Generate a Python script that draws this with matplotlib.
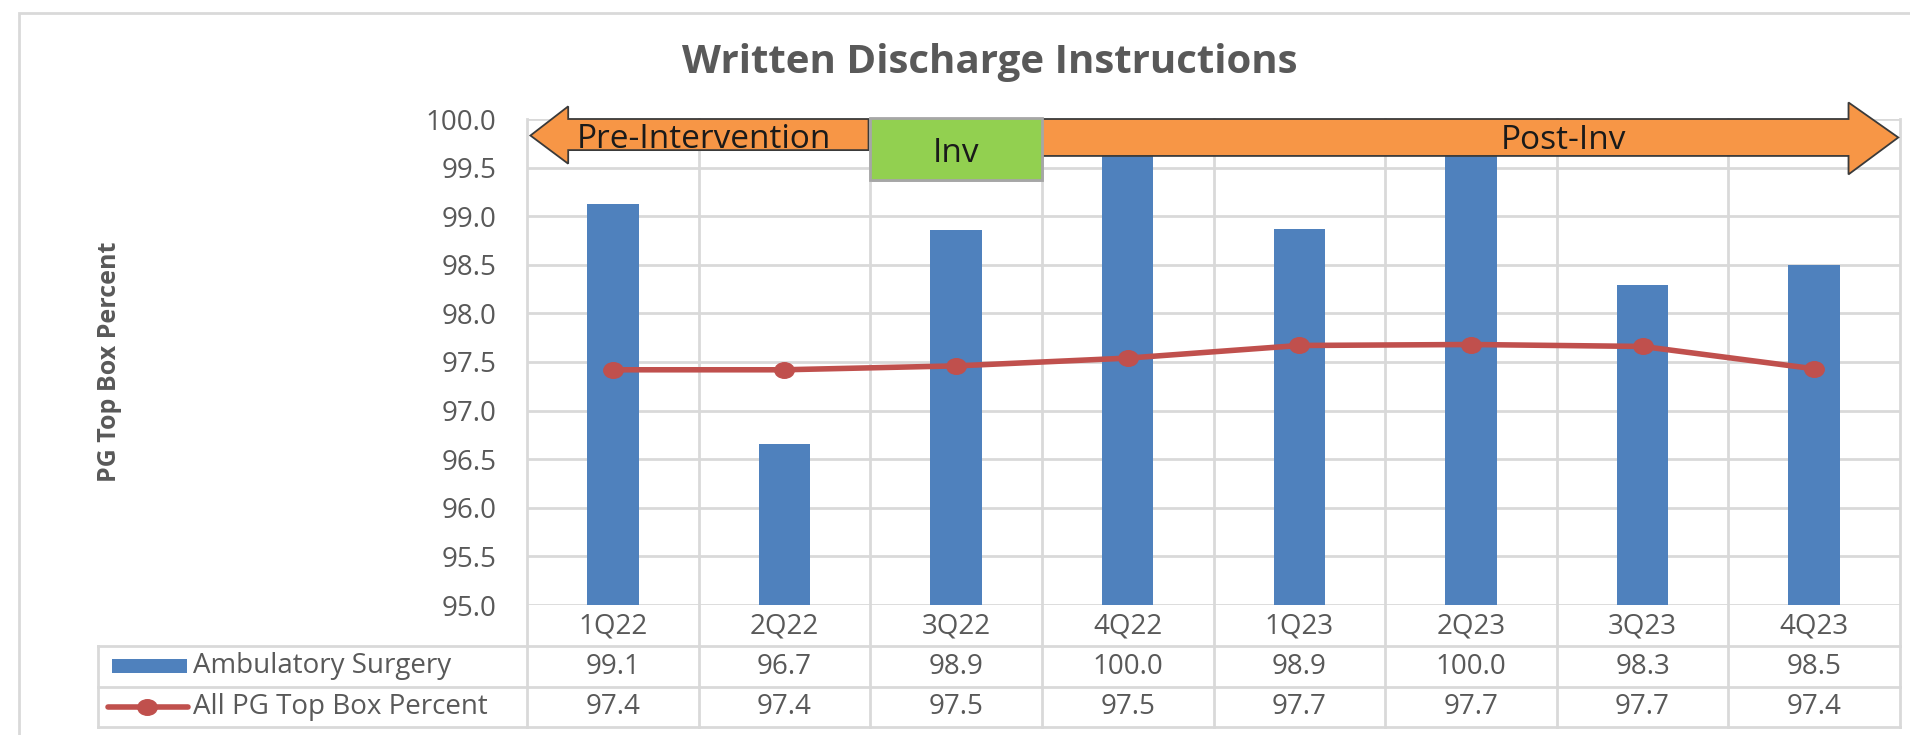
import matplotlib
matplotlib.use("Agg")
import matplotlib.pyplot as plt
import matplotlib.patches as mpatches
import matplotlib.transforms as mtransforms
from matplotlib.lines import Line2D
from matplotlib.path import Path
import numpy as np

# ---------------- data ----------------
categories = ["1Q22", "2Q22", "3Q22", "4Q22", "1Q23", "2Q23", "3Q23", "4Q23"]
ambulatory = [99.13, 96.66, 98.86, 100.0, 98.87, 100.0, 98.29, 98.5]
all_pg = [97.42, 97.42, 97.46, 97.54, 97.67, 97.68, 97.66, 97.43]
series_names = ["Ambulatory Surgery", "All PG Top Box Percent"]
title = "Written Discharge Instructions"
ylabel = "PG Top Box Percent"
y_ticks = [95.0, 95.5, 96.0, 96.5, 97.0, 97.5, 98.0, 98.5, 99.0, 99.5, 100.0]

# ---------------- style ----------------
FONT = "Open Sans"
plt.rcParams["font.family"] = [FONT, "DejaVu Sans"]
BAR_C = "#4F81BD"
LINE_C = "#C0504D"
GRID_C = "#D9D9D9"
TXT_C = "#595959"
ORANGE = "#F79646"
GREEN = "#92D050"
FS = 20

W, H = 1910, 735
fig = plt.figure(figsize=(W / 100, H / 100), dpi=100)


def fx(px):
    return px / W


def fy(py):
    return 1 - py / H


L, R, T, B = 527, 1900, 119, 605
ax = fig.add_axes([fx(L), fy(B), fx(R) - fx(L), fy(T) - fy(B)])
x = np.arange(len(categories))

ax.set_xlim(-0.5, len(categories) - 0.5)
ax.set_ylim(y_ticks[0], y_ticks[-1])
ax.set_yticks(y_ticks)
ax.set_yticklabels([f"{v:.1f}" for v in y_ticks])
ax.set_xticks([])
ax.tick_params(axis="y", length=0, labelsize=FS, labelcolor=TXT_C, pad=22)
for s in ax.spines.values():
    s.set_visible(False)
ax.set_axisbelow(True)
ax.yaxis.grid(True, color=GRID_C, lw=2)

# bars
ax.bar(x, ambulatory, width=0.3, color=BAR_C, zorder=2)

# line with slightly wide round markers
circ = Path.unit_circle()
ell = Path(circ.vertices * np.array([1.25, 1.0]), circ.codes)
ax.plot(x, all_pg, color=LINE_C, lw=4, marker=ell, markersize=14,
        markerfacecolor=LINE_C, markeredgecolor=LINE_C, zorder=3,
        solid_capstyle="round")

# blended transform: x in data, y in figure fraction
bt = mtransforms.blended_transform_factory(ax.transData, fig.transFigure)

# vertical grid / table lines
for b in np.arange(-0.5, len(categories), 1.0):
    ax.add_line(Line2D([b, b], [fy(T), fy(727)], transform=bt, color=GRID_C,
                       lw=2, clip_on=False, zorder=0.6))

# table horizontal lines
for py in [646, 687, 727]:
    fig.add_artist(Line2D([fx(98), fx(R)], [fy(py), fy(py)], color=GRID_C, lw=2))
fig.add_artist(Line2D([fx(98), fx(98)], [fy(646), fy(727)], color=GRID_C, lw=2))

# category row
for i, c in enumerate(categories):
    ax.text(i, fy(627), c, transform=bt, ha="center", va="center",
            fontsize=FS, color=TXT_C, clip_on=False)
# values rows
for i, v in enumerate(ambulatory):
    ax.text(i, fy(666.5), f"{v:.1f}", transform=bt, ha="center", va="center",
            fontsize=FS, color=TXT_C, clip_on=False)
for i, v in enumerate(all_pg):
    ax.text(i, fy(707), f"{v:.1f}", transform=bt, ha="center", va="center",
            fontsize=FS, color=TXT_C, clip_on=False)

# legend keys in table
fig.add_artist(mpatches.Rectangle((fx(112), fy(673)), fx(187) - fx(112),
                                  fy(659) - fy(673), facecolor=BAR_C, edgecolor="none"))
fig.add_artist(Line2D([fx(108), fx(188)], [fy(707), fy(707)], color=LINE_C, lw=4,
                      marker=None, solid_capstyle="round"))
fig.add_artist(Line2D([fx(147)], [fy(707)], color=LINE_C, marker=ell,
                      markersize=14, linestyle="none"))
fig.text(fx(193), fy(666.5), series_names[0], ha="left", va="center",
         fontsize=FS, color=TXT_C)
fig.text(fx(193), fy(707), series_names[1], ha="left", va="center",
         fontsize=FS, color=TXT_C)

# title and axis label
fig.text(fx(990), fy(63), title, ha="center", va="center", fontsize=29,
         fontweight="bold", color=TXT_C)
fig.text(fx(110), fy(362), ylabel, rotation=90, ha="center", va="center",
         fontsize=18, fontweight="bold", color=TXT_C)

# ---------------- phase annotations ----------------
EDGE = "#3A3A3A"
pre = [(-0.48, 99.83), (-0.26, 100.13), (-0.26, 100.0), (1.49, 100.0),
       (1.49, 99.68), (-0.26, 99.68), (-0.26, 99.54)]
ax.add_patch(mpatches.Polygon(pre, closed=True, facecolor=ORANGE, edgecolor=EDGE,
                              lw=1.3, clip_on=False, zorder=5))
post = [(2.5, 100.0), (7.2, 100.0), (7.2, 100.17), (7.49, 99.81), (7.2, 99.43),
        (7.2, 99.62), (2.5, 99.62)]
ax.add_patch(mpatches.Polygon(post, closed=True, facecolor=ORANGE, edgecolor=EDGE,
                              lw=1.3, clip_on=False, zorder=5))
# Inv box with subtle shadow
ax.add_patch(mpatches.Rectangle((1.51, 99.35), 1.0, 0.64, facecolor="#BFBFBF",
                                edgecolor="none", clip_on=False, zorder=4.9))
ax.add_patch(mpatches.Rectangle((1.5, 99.37), 1.0, 0.64, facecolor=GREEN,
                                edgecolor="#A6A6A6", lw=2, clip_on=False, zorder=5))

ax.text(0.53, 99.79, "Pre-Intervention", ha="center", va="center", fontsize=24,
        color="#1A1A1A", zorder=6, clip_on=False)
ax.text(2.0, 99.64, "Inv", ha="center", va="center", fontsize=24,
        color="#1A1A1A", zorder=6, clip_on=False)
ax.text(5.54, 99.78, "Post-Inv", ha="center", va="center", fontsize=24,
        color="#1A1A1A", zorder=6, clip_on=False)

# outer chart border (top and left visible)
fig.add_artist(mpatches.Rectangle((fx(19), fy(760)), 2.0, fy(13) - fy(760),
                                  facecolor="none", edgecolor=GRID_C, lw=2))

fig.savefig("out.png", dpi=100)
